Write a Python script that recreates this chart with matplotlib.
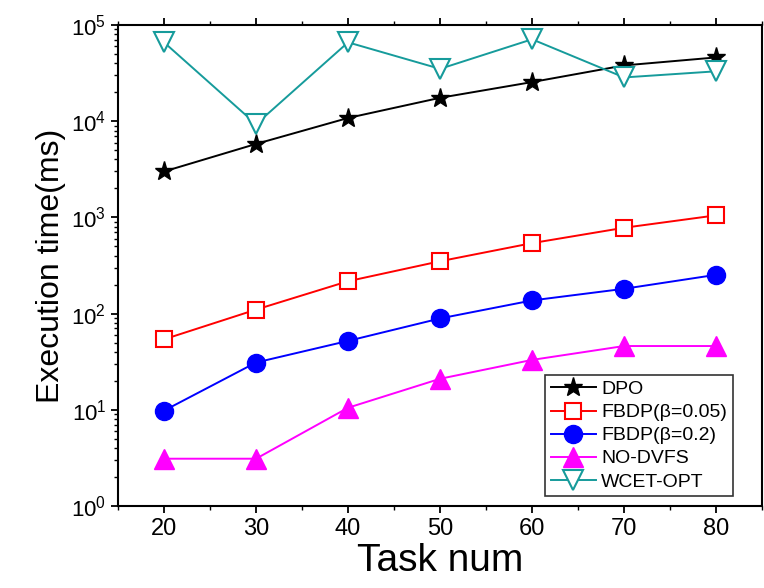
import numpy as np
import matplotlib
matplotlib.use('Agg')
import matplotlib.pyplot as plt
from matplotlib.ticker import LogLocator, MultipleLocator

plt.rcParams['font.family'] = ['Liberation Sans', 'DejaVu Sans']
plt.rcParams['mathtext.fontset'] = 'custom'
plt.rcParams['mathtext.rm'] = 'Liberation Sans'
plt.rcParams['mathtext.it'] = 'Liberation Sans:italic'

task_num = [20, 30, 40, 50, 60, 70, 80]

dpo = [3000, 5800, 10800, 17500, 25500, 38000, 46000]
fbdp_005 = [54, 110, 217, 350, 540, 780, 1050]
fbdp_02 = [9.8, 31, 52, 89, 137, 181, 253]
no_dvfs = [3.1, 3.1, 10.5, 21, 33, 46, 46]
wcet_opt = [66000, 9300, 66000, 35000, 71000, 28500, 33000]

fig = plt.figure(figsize=(7.64, 5.88), dpi=100)
ax = fig.add_axes([0.1545, 0.1395, 0.843, 0.818])

lw = 1.4
ax.plot(task_num, dpo, color='black', lw=lw, marker='*', ms=14,
        label='DPO')
ax.plot(task_num, fbdp_005, color='red', lw=lw, marker='s', ms=11,
        mfc='white', mec='red', mew=1.5, label='FBDP(β=0.05)')
ax.plot(task_num, fbdp_02, color='blue', lw=lw, marker='o', ms=13,
        label='FBDP(β=0.2)')
ax.plot(task_num, no_dvfs, color='magenta', lw=lw, marker='^', ms=14,
        label='NO-DVFS')
ax.plot(task_num, wcet_opt, color='#169b9b', lw=lw, marker='v', ms=15,
        mfc='white', mec='#169b9b', mew=1.5, label='WCET-OPT')

ax.set_yscale('log')
ax.set_ylim(1, 1e5)
ax.set_xlim(15, 85)
ax.xaxis.set_major_locator(MultipleLocator(10))
ax.xaxis.set_minor_locator(MultipleLocator(5))
ax.yaxis.set_major_locator(LogLocator(base=10, numticks=10))
ax.yaxis.set_minor_locator(LogLocator(base=10, subs=np.arange(2, 10), numticks=10))

ax.tick_params(axis='both', which='major', labelsize=17, width=1.3, length=5,
               direction='out', top=True, right=False)
ax.tick_params(axis='both', which='minor', width=1.0, length=3,
               direction='out', top=True, right=False)
ax.tick_params(axis='y', labelsize=16)

for s in ax.spines.values():
    s.set_linewidth(1.5)

ax.set_xlabel('Task num', fontsize=28, labelpad=2)
ax.set_ylabel('Execution time(ms)', fontsize=23, labelpad=4)

leg = ax.legend(loc='lower right', bbox_to_anchor=(0.955, 0.02),
                fontsize=14, frameon=True, fancybox=False,
                edgecolor='black', labelspacing=0.28, handlelength=2.3,
                handletextpad=0.3, borderpad=0.3, borderaxespad=0)
leg.get_frame().set_linewidth(1.2)

fig.savefig('out.png', dpi=100)
